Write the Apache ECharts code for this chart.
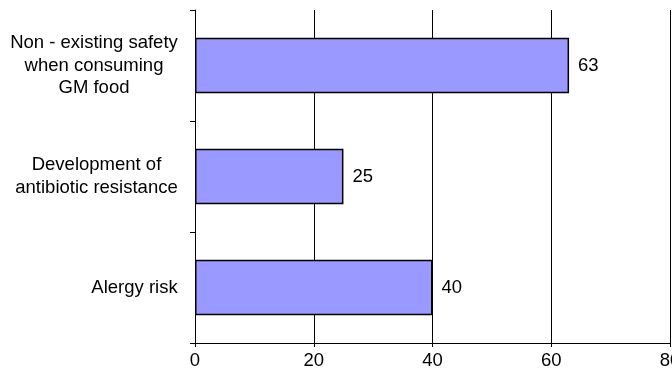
<!DOCTYPE html>
<html>
<head>
<meta charset="utf-8">
<script src="https://cdn.jsdelivr.net/npm/echarts@6/dist/echarts.min.js"></script>
<style>
html,body{margin:0;padding:0;background:#fff;}
#chart{width:672px;height:374px;}
</style>
</head>
<body>
<div id="chart"></div>
<script>
// Perceived risks of GM food (%)
const categories = [
  'Non - existing safety\nwhen consuming\nGM food',
  'Development of\nantibiotic resistance',
  'Alergy risk'
];
const values = [63, 25, 40];
const xTicks = [0, 20, 40, 60, 80];

const font = 'Liberation Sans, Arial, sans-serif';
const labelSize = 18.5;

// Each category label is a centred block as wide as its longest line.
const ctx = document.createElement('canvas').getContext('2d');
ctx.font = labelSize + 'px ' + font;
const rich = {};
categories.forEach((c, i) => {
  const w = Math.max(...c.split('\n').map(l => ctx.measureText(l).width));
  rich['c' + i] = {
    width: Math.ceil(w), align: 'center', color: '#000',
    fontFamily: font, fontSize: labelSize, lineHeight: 22.5
  };
});

const chart = echarts.init(document.getElementById('chart'), null, {renderer: 'canvas'});

chart.setOption({
  animation: false,
  backgroundColor: '#fff',
  grid: {left: 195, right: 2, top: 10, bottom: 31, containLabel: false, outerBoundsMode: 'none'},
  xAxis: {
    type: 'value',
    min: xTicks[0],
    max: xTicks[xTicks.length - 1],
    interval: 20,
    axisLine: {show: true, lineStyle: {color: '#000', width: 1}},
    axisTick: {show: true, inside: false, length: 4, lineStyle: {color: '#000'}},
    splitLine: {show: true, lineStyle: {color: '#000', width: 1}},
    axisLabel: {
      color: '#000', fontFamily: font, fontSize: labelSize, margin: 8,
      formatter: v => xTicks.includes(v) ? String(v) : ''
    }
  },
  yAxis: {
    type: 'category',
    data: categories,
    inverse: true,
    axisLine: {show: true, lineStyle: {color: '#000', width: 1}},
    axisTick: {show: true, inside: false, length: 5, alignWithLabel: false, lineStyle: {color: '#000'}},
    axisLabel: {
      color: '#000', fontFamily: font, fontSize: labelSize, margin: 17,
      lineHeight: 22.5, align: 'right',
      formatter: (v, i) => v.split('\n').map(l => '{c' + i + '|' + l + '}').join('\n'),
      rich: rich
    },
    splitLine: {show: false}
  },
  series: [{
    type: 'bar',
    data: values,
    barWidth: '50%',
    itemStyle: {color: '#9999FF', borderColor: '#000', borderWidth: 1.5},
    label: {
      show: true, position: 'right', distance: 9,
      color: '#000', fontFamily: font, fontSize: labelSize
    }
  }]
});
</script>
</body>
</html>
